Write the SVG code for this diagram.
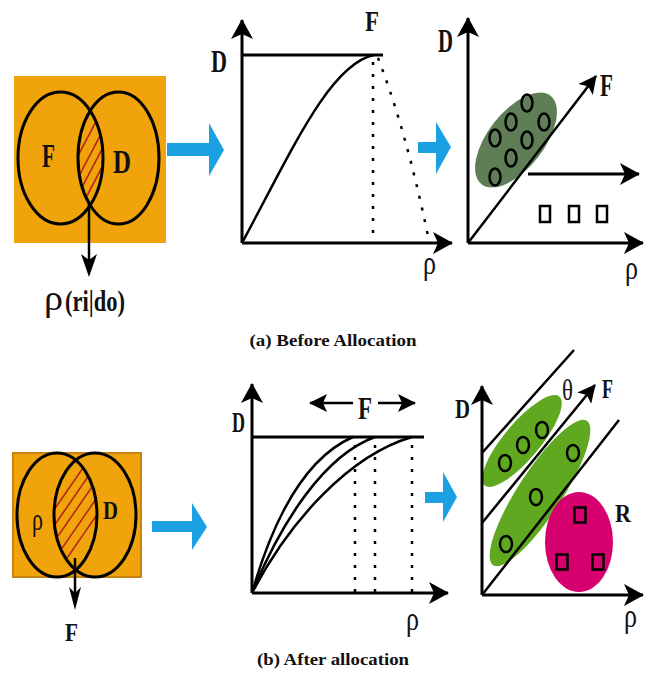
<svg xmlns="http://www.w3.org/2000/svg" width="650" height="675" viewBox="0 0 650 675">
<style>
.lbl{font-family:"Times New Roman","Liberation Serif",Times,serif;font-weight:bold;fill:#111}
.rho{font-family:"Times New Roman","Liberation Serif",Times,serif;font-weight:normal;fill:#111}
.cap{font-family:"Times New Roman","Liberation Serif",Times,serif;font-weight:bold;fill:#111;font-size:16px}
.ax{stroke:#000;stroke-width:3;fill:none}
.cv{stroke:#000;stroke-width:2.5;fill:none}
.dot{stroke:#000;stroke-width:2.5;fill:none;stroke-dasharray:3 9}
.ring{stroke:#000;stroke-width:3;fill:none}
.sm{stroke:#000;stroke-width:2.5;fill:none}
.hatch{stroke:#B3261E;stroke-width:1.6}
.blue{fill:#1BA1E2}
</style>
<defs>
<marker id="ah" markerUnits="userSpaceOnUse" markerWidth="20" markerHeight="22" refX="19" refY="11" orient="auto">
<path d="M0,0 L20,11 L0,22 L5,11 z" fill="#000"/>
</marker>
<marker id="ahs" markerUnits="userSpaceOnUse" markerWidth="18" markerHeight="18" refX="17" refY="9" orient="auto">
<path d="M0,0 L18,9 L0,18 L4,9 z" fill="#000"/>
</marker>
<clipPath id="l1a"><ellipse cx="60.5" cy="158" rx="42.5" ry="66"/></clipPath>
<clipPath id="l1b"><ellipse cx="118.5" cy="158" rx="40.5" ry="66"/></clipPath>
<clipPath id="l4a"><ellipse cx="57" cy="515" rx="40" ry="62"/></clipPath>
<clipPath id="l4b"><ellipse cx="95" cy="515" rx="41" ry="62"/></clipPath>
</defs>

<!-- Panel 1: Venn before -->
<g id="venn-before">
<rect x="14" y="76" width="152" height="167" fill="#F0A30A"/>
<g clip-path="url(#l1a)"><g clip-path="url(#l1b)">
<line class="hatch" x1="70" y1="145" x2="110" y2="69"/>
<line class="hatch" x1="70" y1="171" x2="110" y2="95"/>
<line class="hatch" x1="70" y1="193" x2="110" y2="117"/>
<line class="hatch" x1="70" y1="210" x2="110" y2="134"/>
<line class="hatch" x1="70" y1="228" x2="110" y2="152"/>
</g></g>
<ellipse class="ring" cx="60.5" cy="158" rx="42.5" ry="66"/>
<ellipse class="ring" cx="118.5" cy="158" rx="40.5" ry="66"/>
<text class="lbl" x="42" y="167" font-size="33" textLength="13" lengthAdjust="spacingAndGlyphs">F</text>
<text class="lbl" x="113" y="173" font-size="34" textLength="18" lengthAdjust="spacingAndGlyphs">D</text>
<line x1="89" y1="203" x2="89" y2="262" stroke="#000" stroke-width="2.5"/>
<path d="M89,277 L81,254 L89,260 L97,254 z" fill="#000"/>
<text class="rho" x="44" y="310" font-size="36" textLength="19" lengthAdjust="spacingAndGlyphs">ρ</text>
<text class="lbl" x="65" y="311" font-size="29" textLength="60" lengthAdjust="spacingAndGlyphs">(ri|do)</text>
</g>

<!-- Panel 2: curve before -->
<g id="curve-before">
<path class="cv" d="M242,243 C292,150 330,64 374,55"/>
<line class="dot" x1="373" y1="62" x2="373" y2="243"/>
<path class="dot" d="M378,58 Q406,130 428,236"/>
<line class="ax" x1="242" y1="55" x2="383" y2="55"/>
<line class="ax" x1="242" y1="243" x2="242" y2="20" marker-end="url(#ah)"/>
<line class="ax" x1="242" y1="243" x2="452" y2="243" marker-end="url(#ah)"/>
<text class="lbl" x="211" y="72" font-size="32" textLength="16" lengthAdjust="spacingAndGlyphs">D</text>
<text class="lbl" x="365" y="31" font-size="30" textLength="14" lengthAdjust="spacingAndGlyphs">F</text>
<text class="rho" x="423" y="274" font-size="34" textLength="13" lengthAdjust="spacingAndGlyphs">ρ</text>
</g>

<!-- Panel 3: space before -->
<g id="space-before">
<ellipse cx="516" cy="140" rx="56" ry="28" transform="rotate(-52 516 140)" fill="#5F7E57"/>
<line class="ax" x1="468" y1="243" x2="468" y2="18" marker-end="url(#ah)"/>
<line class="ax" x1="468" y1="243" x2="643" y2="243" marker-end="url(#ah)"/>
<line x1="468" y1="243" x2="596" y2="76" stroke="#000" stroke-width="2.5" marker-end="url(#ahs)"/>
<line class="ax" x1="528" y1="174" x2="639" y2="174" marker-end="url(#ah)"/>
<ellipse class="sm" cx="527" cy="103" rx="5.5" ry="8.5"/>
<ellipse class="sm" cx="511" cy="122" rx="5.5" ry="8.5"/>
<ellipse class="sm" cx="544" cy="122" rx="5.5" ry="8.5"/>
<ellipse class="sm" cx="495" cy="138" rx="5.5" ry="8.5"/>
<ellipse class="sm" cx="527" cy="140" rx="5.5" ry="8.5"/>
<ellipse class="sm" cx="511" cy="158" rx="5.5" ry="8.5"/>
<ellipse class="sm" cx="495" cy="177" rx="5.5" ry="8.5"/>
<rect class="sm" x="540" y="206" width="10" height="16"/>
<rect class="sm" x="569" y="206" width="10" height="16"/>
<rect class="sm" x="597" y="206" width="10" height="16"/>
<text class="lbl" x="438" y="52" font-size="33" textLength="15" lengthAdjust="spacingAndGlyphs">D</text>
<text class="lbl" x="600" y="96" font-size="32" textLength="13" lengthAdjust="spacingAndGlyphs">F</text>
<text class="rho" x="625" y="279" font-size="34" textLength="13" lengthAdjust="spacingAndGlyphs">ρ</text>
</g>

<!-- Panel 4: Venn after -->
<g id="venn-after">
<rect x="13" y="453" width="128" height="124" fill="#F0A30A" stroke="#C98410" stroke-width="2"/>
<g clip-path="url(#l4a)"><g clip-path="url(#l4b)">
<line class="hatch" x1="45" y1="523" x2="105" y2="436"/>
<line class="hatch" x1="45" y1="539" x2="105" y2="452"/>
<line class="hatch" x1="45" y1="555" x2="105" y2="468"/>
<line class="hatch" x1="45" y1="573" x2="105" y2="486"/>
<line class="hatch" x1="45" y1="590" x2="105" y2="503"/>
</g></g>
<ellipse class="ring" cx="57" cy="515" rx="40" ry="62"/>
<ellipse class="ring" cx="95" cy="515" rx="41" ry="62"/>
<text class="rho" x="32" y="530" font-size="32" textLength="11" lengthAdjust="spacingAndGlyphs">ρ</text>
<text class="lbl" x="103" y="519" font-size="26" textLength="15" lengthAdjust="spacingAndGlyphs">D</text>
<line x1="75" y1="558" x2="75" y2="596" stroke="#000" stroke-width="2.5"/>
<path d="M75,610 L69,587 L75,593 L81,587 z" fill="#000"/>
<text class="lbl" x="65" y="641" font-size="26" textLength="13" lengthAdjust="spacingAndGlyphs">F</text>
</g>

<!-- Panel 5: curves after -->
<g id="curve-after">
<path class="cv" d="M252,593 C270,530 300,460 353,437"/>
<path class="cv" d="M252,593 C282,520 325,455 375,437"/>
<path class="cv" d="M252,593 C290,520 350,455 412,437"/>
<line class="dot" x1="355" y1="445" x2="355" y2="593"/>
<line class="dot" x1="375" y1="445" x2="375" y2="593"/>
<line class="dot" x1="412" y1="445" x2="412" y2="593"/>
<line class="ax" x1="252" y1="437" x2="424" y2="437"/>
<line class="ax" x1="252" y1="593" x2="252" y2="384" marker-end="url(#ah)"/>
<line class="ax" x1="252" y1="593" x2="448" y2="593" marker-end="url(#ah)"/>
<line x1="353" y1="403" x2="310" y2="403" stroke="#000" stroke-width="2.5" marker-end="url(#ahs)"/>
<line x1="378" y1="403" x2="415" y2="403" stroke="#000" stroke-width="2.5" marker-end="url(#ahs)"/>
<text class="lbl" x="358" y="419" font-size="31" textLength="14" lengthAdjust="spacingAndGlyphs">F</text>
<text class="lbl" x="232" y="432" font-size="30" textLength="13" lengthAdjust="spacingAndGlyphs">D</text>
<text class="rho" x="406" y="630" font-size="34" textLength="13" lengthAdjust="spacingAndGlyphs">ρ</text>
</g>

<!-- Panel 6: space after -->
<g id="space-after">
<ellipse cx="522" cy="441" rx="58" ry="18" transform="rotate(-50 522 441)" fill="#60A820"/>
<ellipse cx="540" cy="493" rx="86" ry="22" transform="rotate(-57 540 493)" fill="#60A820"/>
<ellipse cx="579" cy="542" rx="34" ry="50" fill="#D6006E"/>
<line x1="482" y1="453" x2="574" y2="350" stroke="#000" stroke-width="2.5"/>
<line x1="482" y1="523" x2="595" y2="385" stroke="#000" stroke-width="2.5" marker-end="url(#ahs)"/>
<line x1="482" y1="595" x2="619" y2="420" stroke="#000" stroke-width="2.5"/>
<line class="ax" x1="482" y1="595" x2="482" y2="386" marker-end="url(#ah)"/>
<line class="ax" x1="482" y1="595" x2="643" y2="595" marker-end="url(#ah)"/>
<ellipse class="sm" cx="505" cy="463" rx="6" ry="8"/>
<ellipse class="sm" cx="523" cy="445" rx="6" ry="8"/>
<ellipse class="sm" cx="542" cy="430" rx="6" ry="8"/>
<ellipse class="sm" cx="573" cy="453" rx="6" ry="8"/>
<ellipse class="sm" cx="536" cy="497" rx="6" ry="8"/>
<ellipse class="sm" cx="506" cy="544" rx="6" ry="8"/>
<rect class="sm" x="574.5" y="507.5" width="11" height="15"/>
<rect class="sm" x="556.5" y="554.5" width="11" height="15"/>
<rect class="sm" x="592.5" y="554.5" width="11" height="15"/>
<text class="lbl" x="455" y="418" font-size="28" textLength="15" lengthAdjust="spacingAndGlyphs">D</text>
<text class="rho" x="562" y="400" font-size="29" textLength="11" lengthAdjust="spacingAndGlyphs">θ</text>
<text class="lbl" x="602" y="398" font-size="27" textLength="11" lengthAdjust="spacingAndGlyphs">F</text>
<text class="lbl" x="615" y="522" font-size="26" textLength="16" lengthAdjust="spacingAndGlyphs">R</text>
<text class="rho" x="624" y="627" font-size="34" textLength="13" lengthAdjust="spacingAndGlyphs">ρ</text>
</g>

<!-- Connectors: blue block arrows -->
<g id="connectors">
<polygon class="blue" points="167,143 209,143 209,123 224,150 209,176 209,156 167,156"/>
<polygon class="blue" points="418,142 436,142 436,122 451,147 436,174 436,153 418,153"/>
<polygon class="blue" points="152,521 192,521 192,503 207,527 192,550 192,532 152,532"/>
<polygon class="blue" points="425,492 443,492 443,472 457,497 443,522 443,503 425,503"/>
</g>

<text class="cap" x="333" y="346" text-anchor="middle" textLength="167" lengthAdjust="spacingAndGlyphs">(a) Before Allocation</text>
<text class="cap" x="333" y="665" text-anchor="middle" textLength="152" lengthAdjust="spacingAndGlyphs">(b) After allocation</text>
</svg>
